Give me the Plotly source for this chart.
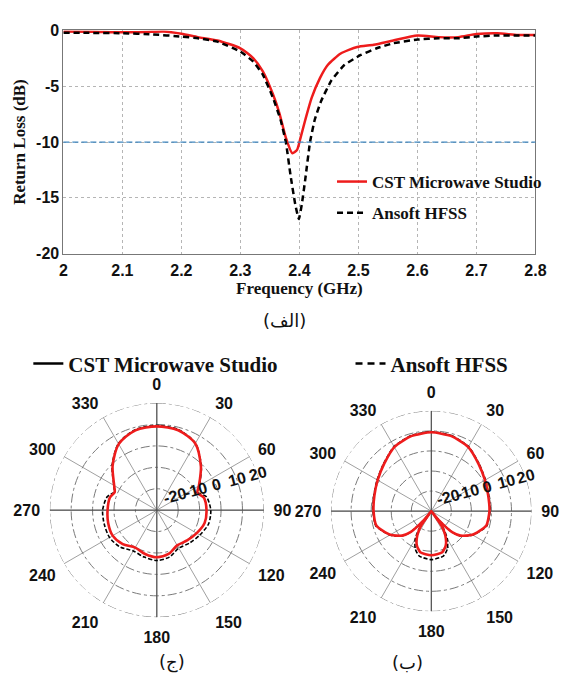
import plotly.graph_objects as go

# ---------------- data: return loss (top) ----------------
freq_cst = [2.0, 2.05, 2.1, 2.15, 2.17, 2.2, 2.228, 2.261, 2.3, 2.322, 2.338, 2.355, 2.366,
            2.377, 2.388, 2.396, 2.402, 2.41, 2.421, 2.435, 2.448, 2.47, 2.498, 2.526,
            2.559, 2.6, 2.636, 2.669, 2.7, 2.735, 2.77, 2.8]
rl_cst = [-0.1, -0.12, -0.17, -0.12, -0.1, -0.3, -0.6, -0.9, -1.6, -2.5, -3.67, -5.7, -7.4,
          -9.6, -11.0, -10.7, -9.6, -8.0, -6.0, -4.25, -3.1, -2.07, -1.48, -1.28,
          -0.9, -0.45, -0.6, -0.6, -0.33, -0.25, -0.4, -0.4]

freq_hfss = [2.0, 2.05, 2.1, 2.15, 2.2, 2.228, 2.261, 2.3, 2.322, 2.338, 2.355, 2.368, 2.377,
             2.385, 2.393, 2.399, 2.404, 2.41, 2.418, 2.426, 2.437, 2.454, 2.476, 2.504,
             2.531, 2.559, 2.6, 2.636, 2.669, 2.7, 2.735, 2.77, 2.8]
rl_hfss = [-0.2, -0.22, -0.25, -0.35, -0.55, -0.7, -1.0, -1.9, -2.8, -3.96, -6.0, -8.0, -10.0,
           -13.0, -15.6, -16.9, -15.6, -13.3, -10.0, -8.0, -6.3, -4.5, -3.1, -2.2,
           -1.6, -1.15, -0.82, -0.7, -0.7, -0.55, -0.45, -0.45, -0.45]

threshold_db = -10
x_ticks = [2.0, 2.1, 2.2, 2.3, 2.4, 2.5, 2.6, 2.7, 2.8]
x_ticklabels = ["2", "2.1", "2.2", "2.3", "2.4", "2.5", "2.6", "2.7", "2.8"]
y_ticks = [0, -5, -10, -15, -20]
y_ticklabels = ["0", "-5", "-10", "-15", "-20"]

# ---------------- data: pattern (ج), left ----------------
theta_c = [0, 15, 30, 45, 50, 60, 67, 75, 90, 105, 120, 135, 150, 165, 180, 195, 210, 225,
           240, 255, 270, 285, 293, 300, 315, 330, 345, 360]
cst_c = [9.1, 8.6, 5.9, -0.9, -3.3, -7.3, -9.4, -7.3, -6.8, -6.9, -8.5, -10.0, -11.0, -8.8,
         -8.0, -8.8, -9.8, -7.5, -6.2, -6.5, -7.0, -7.3, -8.6, -7.0, -0.8, 5.6, 8.6, 9.1]
hfss_c = [9.5, 8.9, 6.1, -0.6, -3.0, -7.0, -9.0, -6.0, -4.8, -5.0, -6.8, -8.3, -9.5, -7.3,
          -6.5, -7.3, -8.0, -5.7, -4.5, -4.6, -4.7, -6.0, -8.3, -6.8, -0.5, 5.9, 8.9, 9.5]

# ---------------- data: pattern (ب), right ----------------
theta_b = [0, 15, 30, 45, 60, 75, 90, 105, 120, 130, 135, 140, 142, 145, 150, 157, 165, 180,
           195, 203, 210, 215, 218, 220, 225, 230, 240, 255, 270, 285, 300, 315, 330, 345, 360]
cst_b = [9.3, 8.7, 6.9, 3.3, 0.9, -0.6, -1.0, -1.7, -6.4, -11.0, -15.0, -24.0, -30.0, -21.0,
         -16.0, -11.5, -8.8, -8.0, -8.8, -11.5, -16.0, -21.0, -30.0, -24.0, -15.0, -11.0,
         -6.4, -1.7, -1.2, -0.6, 0.9, 3.3, 6.9, 8.7, 9.3]
hfss_b = [9.6, 9.0, 7.2, 3.6, 1.2, -0.3, -0.7, -1.4, -6.1, -10.7, -14.7, -24.0, -30.0, -19.5,
          -14.0, -9.5, -6.8, -5.8, -6.8, -9.5, -14.0, -19.5, -30.0, -24.0, -14.7, -10.7,
          -6.1, -1.4, -0.9, -0.3, 1.2, 3.6, 7.2, 9.0, 9.6]

r_range = [-30, 20]
r_ticks = [-20, -10, 0, 10, 20]
r_ticklabels = ["-20", "-10", "0", "10", "20"]
ang_ticks = [0, 30, 60, 90, 120, 150, 180, 210, 240, 270, 300, 330]

RED = "#ee1c1c"
BLACK = "#000000"
SERIF = "Liberation Serif, Times New Roman, serif"
SANS = "Liberation Sans, Arial, sans-serif"

fig = go.Figure()

# top chart
fig.add_trace(go.Scatter(x=freq_cst, y=rl_cst, mode="lines", name="CST Microwave Studio",
                         line=dict(color=RED, width=2.5, shape="spline", smoothing=0.6),
                         legendgroup="a", hoverinfo="skip"))
fig.add_trace(go.Scatter(x=freq_hfss, y=rl_hfss, mode="lines", name="Ansoft HFSS",
                         line=dict(color=BLACK, width=2.5, dash="6px,4px", shape="spline",
                                   smoothing=0.4),
                         legendgroup="b", hoverinfo="skip"))
fig.add_hline(y=threshold_db, line=dict(color="#3f86bf", width=1.3, dash="6px,3px"))

# polar decorations: outer dash-dot ring and cross lines (0-180, 90-270)
ring_theta = list(range(0, 361, 3))
for sub in ["polar", "polar2"]:
    fig.add_trace(go.Scatterpolar(r=[r_ticks[-1]] * len(ring_theta), theta=ring_theta,
                                  mode="lines", line=dict(color="#7a7a7a", width=1,
                                                          dash="dashdot"),
                                  subplot=sub, showlegend=False, hoverinfo="skip"))
    for a in [0, 90]:
        fig.add_trace(go.Scatterpolar(r=[r_range[1], r_range[0], r_range[1]],
                                      theta=[a, a, a + 180], mode="lines",
                                      line=dict(color="#444444", width=1),
                                      subplot=sub, showlegend=False, hoverinfo="skip"))

# polar (ج)
fig.add_trace(go.Scatterpolar(r=hfss_c, theta=theta_c, mode="lines", subplot="polar",
                              line=dict(color=BLACK, width=1.6, dash="4px,2px",
                                        shape="spline", smoothing=0.8),
                              showlegend=False, hoverinfo="skip"))
fig.add_trace(go.Scatterpolar(r=cst_c, theta=theta_c, mode="lines", subplot="polar",
                              line=dict(color=RED, width=2.6, shape="spline", smoothing=0.8),
                              showlegend=False, hoverinfo="skip"))
# polar (ب)
fig.add_trace(go.Scatterpolar(r=hfss_b, theta=theta_b, mode="lines", subplot="polar2",
                              line=dict(color=BLACK, width=1.6, dash="4px,2px",
                                        shape="spline", smoothing=0.6),
                              showlegend=False, hoverinfo="skip"))
fig.add_trace(go.Scatterpolar(r=cst_b, theta=theta_b, mode="lines", subplot="polar2",
                              line=dict(color=RED, width=2.6, shape="spline", smoothing=0.6),
                              showlegend=False, hoverinfo="skip"))

# legend-only entries for bottom legends
fig.add_trace(go.Scatter(x=[None], y=[None], mode="lines", name="CST Microwave Studio",
                         line=dict(color=BLACK, width=2.5), legend="legend2"))
fig.add_trace(go.Scatter(x=[None], y=[None], mode="lines", name="Ansoft HFSS",
                         line=dict(color=BLACK, width=2.5, dash="7px,5px"), legend="legend3"))

tickfont = dict(family=SANS, size=16, color="#111", weight="bold")
grid_col = "#b5b5b5"

fig.update_layout(
    width=563, height=681, margin=dict(l=0, r=0, t=0, b=0),
    paper_bgcolor="white", plot_bgcolor="white", showlegend=True,
    xaxis=dict(domain=[61 / 563, 546 / 563], range=[2.0, 2.8], tickvals=x_ticks,
               ticktext=x_ticklabels, tickfont=tickfont, showgrid=True, gridcolor=grid_col,
               griddash="dot", gridwidth=1, zeroline=False, showline=True, linecolor="#777",
               mirror=True, ticks="", ticklabelstandoff=2,
               title=dict(text="Frequency (GHz)", standoff=0,
                          font=dict(family=SERIF, size=17, weight="bold", color="#111"))),
    yaxis=dict(domain=[429 / 681, 658 / 681], range=[-20, 0], tickvals=y_ticks,
               ticktext=y_ticklabels,
               tickfont=tickfont, showgrid=True, gridcolor=grid_col, griddash="dot",
               zeroline=False, showline=True, linecolor="#777", mirror=True, ticks="",
               title=dict(text="Return Loss (dB)", standoff=6,
                          font=dict(family=SERIF, size=17, weight="bold", color="#111"))),
    legend=dict(x=337 / 563, y=(681 - 160) / 681, xanchor="left", yanchor="top",
                bgcolor="rgba(0,0,0,0)", tracegroupgap=6,
                font=dict(family=SERIF, size=17, weight="bold", color="#111")),
    legend2=dict(x=25 / 563, y=(681 - 344) / 681, xanchor="left", yanchor="top",
                 bgcolor="rgba(0,0,0,0)",
                 font=dict(family=SERIF, size=21, weight="bold", color="#111")),
    legend3=dict(x=356 / 563, y=(681 - 344) / 681, xanchor="left", yanchor="top",
                 bgcolor="rgba(0,0,0,0)",
                 font=dict(family=SERIF, size=21, weight="bold", color="#111")),
)

def polar_cfg(dx, dy):
    return dict(
        domain=dict(x=dx, y=dy), bgcolor="white",
        radialaxis=dict(range=r_range, tickvals=r_ticks, ticktext=r_ticklabels, angle=15,
                        side="counterclockwise",
                        tickangle=0, showline=False, ticks="", tickfont=tickfont,
                        gridcolor="#7a7a7a", griddash="dashdot", gridwidth=1),
        angularaxis=dict(rotation=90, direction="clockwise", tickvals=ang_ticks,
                         tickfont=tickfont, showline=False, ticks="outside", ticklen=6,
                         tickcolor="rgba(0,0,0,0)",
                         gridcolor="#a0a0a0", gridwidth=1),
    )

fig.update_layout(
    polar=polar_cfg([47 / 563, 267 / 563], [56 / 681, 276 / 681]),
    polar2=polar_cfg([336 / 563, 542 / 563], [62 / 681, 268 / 681]),
)

ar_font = dict(family="DejaVu Sans, Noto Sans, sans-serif", size=18, color="#111")
fig.add_annotation(text="(الف)", x=288 / 563, y=(681 - 320) / 681, xref="paper",
                   yref="paper", showarrow=False, font=ar_font, yanchor="middle")
fig.add_annotation(text="(ج)", x=157 / 563, y=(681 - 671) / 681, xref="paper",
                   yref="paper", showarrow=False, font=ar_font, yanchor="middle")
fig.add_annotation(text="(ب)", x=433 / 563, y=(681 - 671) / 681, xref="paper",
                   yref="paper", showarrow=False, font=ar_font, yanchor="middle")

fig.write_html("out.html")
